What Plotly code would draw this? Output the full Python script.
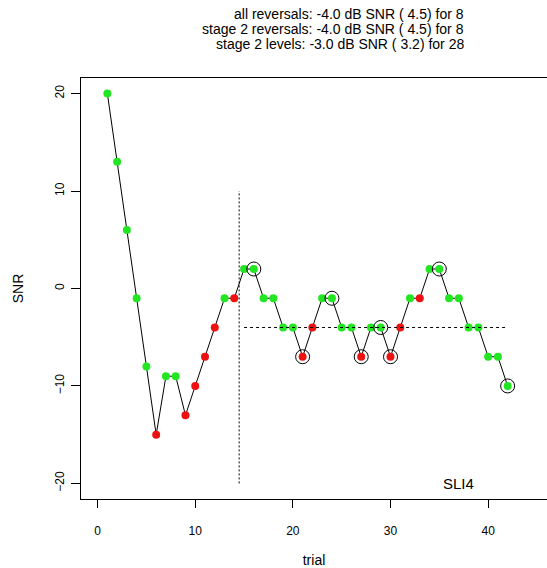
import plotly.graph_objects as go

trial = list(range(1, 43))
snr = [20, 13, 6, -1, -8, -15, -9, -9, -13, -10, -7, -4, -1, -1,
       2, 2, -1, -1, -4, -4, -7, -4, -1, -1, -4, -4, -7, -4, -4, -7,
       -4, -1, -1, 2, 2, -1, -1, -4, -4, -7, -7, -10]
red_trials = [6, 9, 10, 11, 12, 14, 21, 22, 27, 30, 31, 33]
reversal_trials = [16, 21, 24, 27, 29, 30, 35, 42]
stage2_start = 14.5
stage2_mean = -4
x_ticks = [0, 10, 20, 30, 40]
y_ticks = [-20, -10, 0, 10, 20]
title_lines = [
    "all reversals: -4.0 dB SNR ( 4.5) for 8",
    "stage 2 reversals: -4.0 dB SNR ( 4.5) for 8",
    "stage 2 levels: -3.0 dB SNR ( 3.2) for 28",
]
label = "SLI4"

RED = "#EE1111"
GREEN = "#22E622"
colors = [RED if t in red_trials else GREEN for t in trial]

fig = go.Figure()
fig.add_trace(go.Scatter(x=trial, y=snr, mode="lines",
                         line=dict(color="black", width=1), hoverinfo="skip"))
fig.add_trace(go.Scatter(x=trial, y=snr, mode="markers",
                         marker=dict(color=colors, size=8, line=dict(width=0))))
rev_y = [snr[t - 1] for t in reversal_trials]
fig.add_trace(go.Scatter(x=reversal_trials, y=rev_y, mode="markers",
                         marker=dict(symbol="circle-open", color="black", size=14,
                                     line=dict(width=1, color="black"))))
fig.add_trace(go.Scatter(x=[stage2_start, stage2_start], y=[-20, 10], mode="lines",
                         line=dict(color="black", width=1, dash="2px,2px")))
fig.add_trace(go.Scatter(x=[15, 42], y=[stage2_mean, stage2_mean], mode="lines",
                         line=dict(color="black", width=1, dash="3px,3px")))

for i, t in enumerate(title_lines):
    fig.add_annotation(text=t, xref="paper", yref="paper", x=(465 - 80.7) / 466.3,
                       y=1, yshift=64 - 15 * i, xanchor="right", yanchor="middle",
                       showarrow=False, font=dict(size=14, color="black"),
                       borderpad=0)

fig.add_annotation(text=label, x=37, y=-20, xref="x", yref="y", showarrow=False,
                   xanchor="center", yanchor="middle", font=dict(size=15, color="black"))

fig.update_layout(
    width=547, height=568,
    margin=dict(l=81, r=0, t=78, b=69),
    paper_bgcolor="white", plot_bgcolor="white",
    showlegend=False,
    font=dict(family="Liberation Sans, Arial, sans-serif", size=12, color="black"),
)
fig.update_xaxes(range=[-1.7, 46.03], tickvals=x_ticks, ticks="outside", ticklen=8,
                 tickcolor="black", showline=True, linecolor="black", linewidth=1,
                 mirror=True, showgrid=False, zeroline=False, ticklabelstandoff=13,
                 automargin=False,
                 title=dict(text="trial", standoff=26))
fig.update_yaxes(range=[-21.6, 21.6], tickvals=y_ticks, ticks="outside", ticklen=9,
                 tickcolor="black", showline=True, linecolor="black", linewidth=1,
                 showgrid=False, zeroline=False, tickangle=-90, ticklabelstandoff=2,
                 automargin=False,
                 title=dict(text="SNR", standoff=26))

fig.write_html("out.html")
